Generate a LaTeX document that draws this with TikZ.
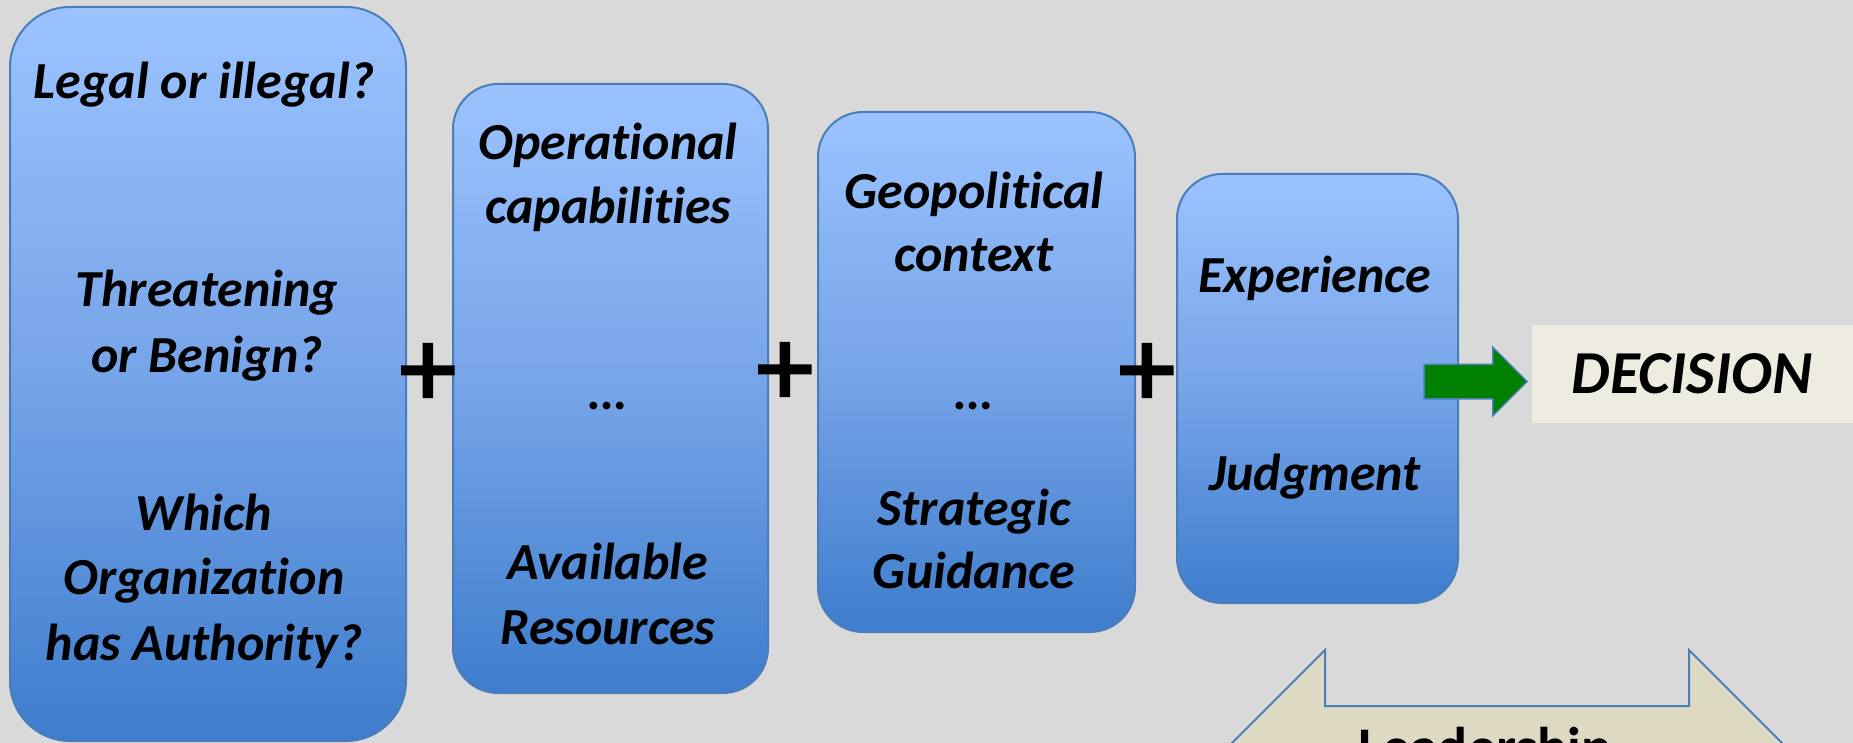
\documentclass[tikz,border=0pt]{standalone}
\usepackage{fontspec}
\setmainfont{Carlito}[Ligatures=NoCommon]
\newfontfamily\plusfont{Carlito}[FakeBold=2.5]
\usetikzlibrary{shapes.arrows}
\definecolor{bggray}{RGB}{217,217,217}
\definecolor{boxtop}{RGB}{155,195,255}
\definecolor{boxmid}{RGB}{118,164,232}
\definecolor{boxbottom}{RGB}{62,125,205}
\definecolor{boxedge}{RGB}{74,126,187}
\definecolor{gogreen}{RGB}{0,128,0}
\definecolor{decfill}{RGB}{238,236,225}
\definecolor{leadfill}{RGB}{221,217,195}
\tikzset{
  factorbox/.style={draw=boxedge, line width=2pt, rounded corners=#1, top color=boxtop, bottom color=boxbottom, middle color=boxmid, inner sep=0pt},
  factortext/.style={anchor=base, inner sep=0pt, font=\fontsize{52}{64}\selectfont\bfseries\itshape},
  plussign/.style={inner sep=0pt, font=\plusfont\fontsize{112}{120}\selectfont}
}
\begin{document}
\begin{tikzpicture}[x=1pt, y=-1pt]
\useasboundingbox (0,0) rectangle (1853,743);
\clip (0,0) rectangle (1853,743);
\fill [bggray] (0,0) rectangle (1853,743);
% the four factor boxes
\node [factorbox=60pt, minimum width=396pt, minimum height=734pt] (legal) at (208,374) {};
\node [factorbox=45pt, minimum width=315pt, minimum height=609pt] (ops) at (610.5,388.5) {};
\node [factorbox=45pt, minimum width=317pt, minimum height=520pt] (geo) at (976.5,372) {};
\node [factorbox=45pt, minimum width=281pt, minimum height=429pt] (exp) at (1317.5,388.5) {};
\node [factortext] (legal1) at (204,99) {Legal or illegal?};
\node [factortext] (legal2) at (207,307) {Threatening};
\node [factortext] (legal3) at (207,372) {or Benign?};
\node [factortext] (legal4) at (204,530) {Which};
\node [factortext] (legal5) at (204,594) {Organization};
\node [factortext] (legal6) at (204,660) {has Authority?};
\node [factortext] (ops1) at (608,160) {Operational};
\node [factortext] (ops2) at (608,224) {capabilities};
\node [factortext] (ops3) at (608,409) {…};
\node [factortext] (ops4) at (608,579) {Available};
\node [factortext] (ops5) at (608,644) {Resources};
\node [factortext] (geo1) at (974,209) {Geopolitical};
\node [factortext] (geo2) at (974,272) {context};
\node [factortext] (geo3) at (974,409) {…};
\node [factortext] (geo4) at (974,525) {Strategic};
\node [factortext] (geo5) at (974,588) {Guidance};
\node [factortext] (exp1) at (1315,293) {Experience};
\node [factortext] (exp2) at (1315,490) {Judgment};
\node [plussign] (plus1) at (428,375) {+};
\node [plussign] (plus2) at (785,374) {+};
\node [plussign] (plus3) at (1147,375) {+};
% outcome
\node [fill=decfill, minimum width=330pt, minimum height=98pt] (decision) at (1697,374) {};
\node [factortext, font=\fontsize{61}{70}\selectfont\bfseries\itshape] (dectext) at (1692,393) {DECISION};
\node [single arrow, fill=gogreen, draw=boxedge, line width=1.5pt, minimum height=103pt, inner xsep=0pt, inner ysep=16.5pt, single arrow head extend=17pt] (go) at (1467,381.5) {};
\node [double arrow, fill=leadfill, draw=boxedge, line width=2pt, minimum height=590pt, inner xsep=0pt, inner ysep=56pt, double arrow head extend=56pt] (lead) at (1507,763) {};
\node [anchor=base, inner sep=0pt, font=\fontsize{56}{66}\selectfont\bfseries] (leadtext) at (1485,766) {Leadership};
\end{tikzpicture}
\end{document}
